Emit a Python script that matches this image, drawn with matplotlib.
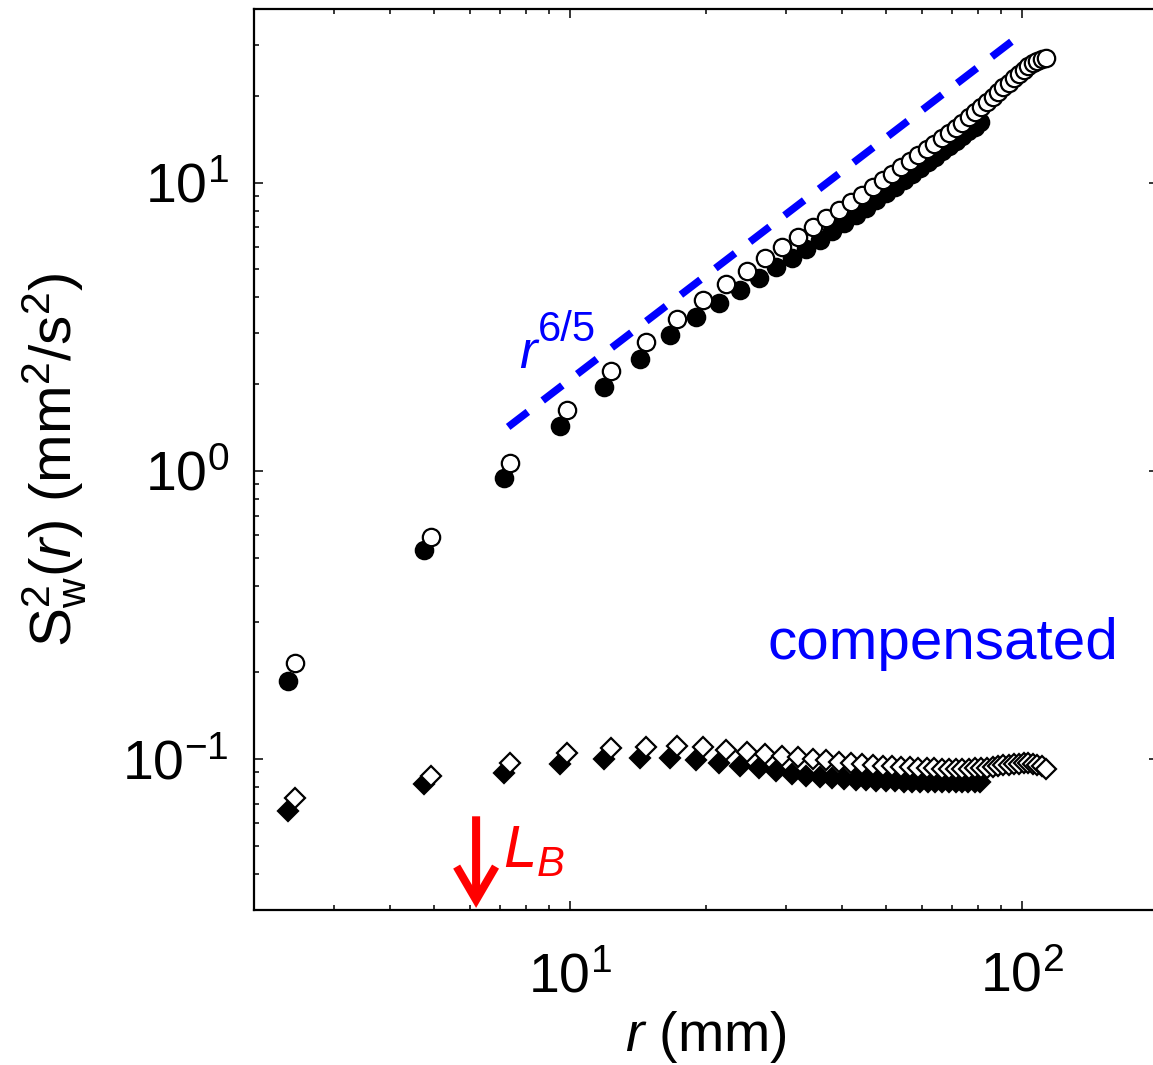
import matplotlib
matplotlib.use("Agg")
import matplotlib.pyplot as plt
import numpy as np

plt.rcParams['font.family'] = ['Liberation Sans', 'DejaVu Sans']
plt.rcParams['mathtext.fontset'] = 'custom'
plt.rcParams['mathtext.rm'] = 'Liberation Sans'
plt.rcParams['mathtext.it'] = 'Liberation Sans:italic'
plt.rcParams['mathtext.bf'] = 'Liberation Sans:bold'

# Separations (mm) for the two data sets
r_filled = [2.38, 4.76, 7.14, 9.52, 11.90, 14.28, 16.66, 19.04, 21.42, 23.80,
            26.18, 28.56, 30.94, 33.32, 35.70, 38.08, 40.46, 42.84, 45.22, 47.60,
            49.98, 52.36, 54.74, 57.12, 59.50, 61.88, 64.26, 66.64, 69.02, 71.40,
            73.78, 76.16, 78.54, 80.92]
r_open = [2.46, 4.92, 7.38, 9.84, 12.30, 14.76, 17.22, 19.68, 22.14, 24.60,
          27.06, 29.52, 31.98, 34.44, 36.90, 39.36, 41.82, 44.28, 46.74, 49.20,
          51.66, 54.12, 56.58, 59.04, 61.50, 63.96, 66.42, 68.88, 71.34, 73.80,
          76.26, 78.72, 81.18, 83.64, 86.10, 88.56, 91.02, 93.48, 95.94, 98.40,
          100.86, 103.32, 105.78, 108.24, 110.70, 113.16]

# Compensated structure functions S_w^2(r) / r^(6/5)
comp_filled = [0.0659, 0.0819, 0.0894, 0.0961, 0.1000, 0.1008, 0.1010, 0.0995, 0.0970, 0.0947,
               0.0930, 0.0910, 0.0892, 0.0878, 0.0868, 0.0860, 0.0854, 0.0849, 0.0845, 0.0842,
               0.0840, 0.0838, 0.0836, 0.0835, 0.0834, 0.0833, 0.0832, 0.0832, 0.0831, 0.0831,
               0.0831, 0.0831, 0.0831, 0.0832]
comp_open = [0.0732, 0.0873, 0.0969, 0.1049, 0.1090, 0.1105, 0.1110, 0.1100, 0.1080, 0.1060,
             0.1045, 0.1030, 0.1015, 0.1000, 0.0990, 0.0980, 0.0970, 0.0962, 0.0955, 0.0950,
             0.0945, 0.0940, 0.0937, 0.0934, 0.0932, 0.0930, 0.0928, 0.0927, 0.0926, 0.0926,
             0.0927, 0.0929, 0.0932, 0.0936, 0.0941, 0.0947, 0.0953, 0.0958, 0.0963, 0.0966,
             0.0968, 0.0968, 0.0965, 0.0958, 0.0945, 0.0925]

# Reference power law r^(6/5)
slope = 6 / 5
fit_r = [7.3, 98.0]
fit_amp = 0.1308
L_B = 6.2

rf = np.array(r_filled)
ro = np.array(r_open)
cf = np.array(comp_filled)
co = np.array(comp_open)
sf = cf * rf ** slope
so = co * ro ** slope

fig = plt.figure(figsize=(11.53, 10.65), dpi=100)
W, H = 1153, 1065
ax = fig.add_axes([254 / W, 1 - 910 / H, (1158 - 254) / W, (910 - 9) / H])

ms_c = 12.5
ms_d = 10.0
mew = 1.6
ax.plot(rf, sf, 'o', ms=ms_c, mfc='black', mec='black', mew=mew, zorder=3)
ax.plot(ro, so, 'o', ms=ms_c, mfc='white', mec='black', mew=mew, zorder=4)
ax.plot(rf, cf, 'D', ms=ms_d, mfc='black', mec='black', mew=mew, zorder=3)
ax.plot(ro, co, 'D', ms=ms_d, mfc='white', mec='black', mew=mew, zorder=4)

fr = np.array(fit_r)
ax.plot(fr, fit_amp * fr ** slope, color='blue', lw=5.4, ls=(0, (3.3, 2.5)),
        solid_capstyle='butt', dash_capstyle='butt', zorder=5)

ax.set_xscale('log')
ax.set_yscale('log')
ax.set_xlim(2, 200)
ax.set_ylim(0.03, 40)

ax.tick_params(which='both', direction='in', top=True, right=True,
               labelsize=40, width=1.1)
ax.tick_params(axis='x', which='major', length=6.5, pad=30)
ax.tick_params(axis='y', which='major', length=6.5, pad=18)
ax.tick_params(which='minor', length=3.6)
for s in ax.spines.values():
    s.set_linewidth(1.6)

ax.set_xlabel(r'$r$ (mm)', fontsize=40, labelpad=4)
ax.set_ylabel(r'$\mathrm{S}_\mathrm{w}^2(r)$ (mm$^2$/s$^2$)', fontsize=42,
              labelpad=24)

ax.text(27.4, 0.222, 'compensated', color='blue', fontsize=42,
        ha='left', va='baseline')
ax.text(7.7, 2.28, 'r', color='blue', fontsize=38, style='italic',
        ha='left', va='baseline')
ax.text(8.5, 2.83, '6/5', color='blue', fontsize=30,
        ha='left', va='baseline')

# L_B marker: open-headed arrow pointing down to the axis
ax.annotate('', xy=(L_B, 0.0305), xytext=(L_B, 0.0634),
            arrowprops=dict(arrowstyle='->,head_length=1.2,head_width=0.7',
                            mutation_scale=20, color='red', lw=5.8,
                            shrinkA=0, shrinkB=0, joinstyle='miter',
                            capstyle='butt'))
ax.text(7.1, 0.0419, r'$L_B$', color='red', fontsize=43,
        ha='left', va='baseline')

fig.savefig('out.png', dpi=100)
